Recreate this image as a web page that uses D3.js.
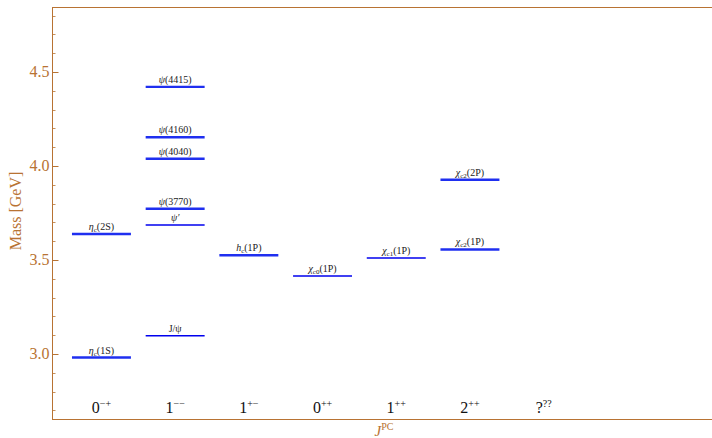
<!DOCTYPE html>
<html>
<head>
<meta charset="utf-8">
<script src="https://cdn.jsdelivr.net/npm/d3@7"></script>
<style>
  html, body { margin: 0; padding: 0; background: #fff; }
  svg { display: block; }
</style>
</head>
<body>
<div id="chart"></div>
<script>
// Charmonium spectrum — mass levels by J^PC

// J^PC columns: [base, superscript]
const columns = [["0", "\u2212+"], ["1", "\u2212\u2212"], ["1", "+\u2212"], ["0", "++"], ["1", "++"], ["2", "++"], ["?", "??"]];

// states: column index, mass (GeV), label parts [main, subscript, suffix]
const stateCol  = [0, 0, 1, 1, 1, 1, 1, 1, 2, 3, 4, 5, 5];
const stateMass = [2.981, 3.638, 3.097, 3.686, 3.773, 4.039, 4.153, 4.421, 3.525, 3.415, 3.511, 3.556, 3.927];
const stateName = [
  ["\u03B7", "c", "(1S)"], ["\u03B7", "c", "(2S)"],
  ["J/\u03C8", "", ""], ["\u03C8\u2032", "", ""], ["\u03C8", "", "(3770)"], ["\u03C8", "", "(4040)"],
  ["\u03C8", "", "(4160)"], ["\u03C8", "", "(4415)"],
  ["h", "c", "(1P)"], ["\u03C7", "c0", "(1P)"], ["\u03C7", "c1", "(1P)"],
  ["\u03C7", "c2", "(1P)"], ["\u03C7", "c2", "(2P)"]
];
const thickStates = new Set([0, 1, 4, 5, 6, 7, 8, 11, 12]);

const yTicks = [3.0, 3.5, 4.0, 4.5];
const yMinor = d3.range(2.7, 4.85, 0.1).map(v => +v.toFixed(1));

const W = 712, H = 438;
const M = {left: 52, top: 7, right: 0, bottom: 19};
const axisColor = "#b87333";
const serif = "'Liberation Serif', 'Times New Roman', Tinos, 'DejaVu Serif', serif";

const svg = d3.select("#chart").append("svg").attr("width", W).attr("height", H)
  .attr("font-family", serif);

const y = d3.scaleLinear().domain([2.654, 4.846]).range([H - M.bottom, M.top]);
const x = d3.scaleBand().domain(d3.range(columns.length)).range([64.6, 580.5])
  .paddingInner(0.2).paddingOuter(0.1);

// frame
svg.append("line").attr("x1", M.left).attr("x2", W).attr("y1", M.top + 0.5).attr("y2", M.top + 0.5)
  .attr("stroke", axisColor).attr("stroke-width", 1);
svg.append("line").attr("x1", M.left).attr("x2", W).attr("y1", H - M.bottom + 0.5).attr("y2", H - M.bottom + 0.5)
  .attr("stroke", axisColor).attr("stroke-width", 1);

// y axis
const yAxis = svg.append("g").attr("transform", "translate(" + (M.left + 0.5) + ",0)");
yAxis.append("line").attr("y1", M.top).attr("y2", H - M.bottom).attr("stroke", axisColor);
yAxis.selectAll(".minor").data(yMinor).enter().append("line")
  .attr("x1", 0).attr("x2", 3).attr("y1", d => Math.round(y(d)) + 0.5).attr("y2", d => Math.round(y(d)) + 0.5)
  .attr("stroke", axisColor).attr("stroke-width", 0.8);
yAxis.selectAll(".major").data(yTicks).enter().append("line")
  .attr("x1", 0).attr("x2", 6).attr("y1", d => Math.round(y(d)) + 0.5).attr("y2", d => Math.round(y(d)) + 0.5)
  .attr("stroke", axisColor).attr("stroke-width", 1);
yAxis.selectAll(".tl").data(yTicks).enter().append("text")
  .attr("x", -3).attr("y", d => y(d) + 5).attr("text-anchor", "end")
  .attr("font-size", "16px").attr("fill", axisColor).text(d => d.toFixed(1));

svg.append("text").attr("transform", "translate(21,211) rotate(-90)").attr("text-anchor", "middle")
  .attr("font-size", "16px").attr("fill", axisColor).text("Mass [GeV]");

// x axis title J^PC
const xt = svg.append("text").attr("x", 384).attr("y", 436).attr("text-anchor", "middle")
  .attr("font-size", "15px").attr("fill", axisColor);
xt.append("tspan").attr("font-style", "italic").text("J");
xt.append("tspan").attr("font-size", "10px").attr("dy", -6).text("PC");

// column labels
const colLab = svg.selectAll(".col").data(columns).enter().append("text")
  .attr("x", (d, i) => x(i) + x.bandwidth() / 2).attr("y", 413).attr("text-anchor", "middle")
  .attr("font-size", "16px").attr("fill", "#111");
colLab.append("tspan").text(d => d[0]);
colLab.append("tspan").attr("font-size", "10px").attr("dy", -6).text(d => d[1]);

// levels
const states = stateMass.map((m, i) => ({i, m, c: stateCol[i], name: stateName[i]}));
svg.selectAll(".lvl").data(states).enter().append("line")
  .attr("x1", d => x(d.c)).attr("x2", d => x(d.c) + x.bandwidth())
  .attr("y1", d => y(d.m)).attr("y2", d => y(d.m))
  .attr("stroke", d => thickStates.has(d.i) ? "#1f2ff0" : "#0000ee")
  .attr("stroke-width", d => thickStates.has(d.i) ? 2.4 : 1.5);

const lab = svg.selectAll(".lab").data(states).enter().append("text")
  .attr("x", d => x(d.c) + x.bandwidth() / 2).attr("y", d => y(d.m) - 4)
  .attr("text-anchor", "middle").attr("font-size", "10px").attr("fill", "#222");
lab.append("tspan").attr("font-style", d => d.name[0].startsWith("J") ? "normal" : "italic").text(d => d.name[0]);
lab.append("tspan").attr("font-size", "7px").attr("dy", d => d.name[1] ? 2 : 0).text(d => d.name[1]);
lab.append("tspan").attr("dy", d => d.name[1] ? -2 : 0).text(d => d.name[2]);
</script>
</body>
</html>
